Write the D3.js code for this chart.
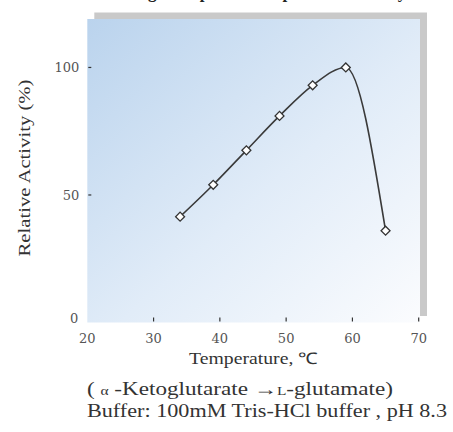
<!DOCTYPE html>
<html>
<head>
<meta charset="utf-8">
<script src="https://cdn.jsdelivr.net/npm/d3@7"></script>
<style>
  body { margin: 0; background: #fff; }
  svg { display: block; }
  .serif { font-family: "Liberation Serif", "Times New Roman", serif; }
  .tick { font-family: "DejaVu Serif", serif; }
</style>
</head>
<body>
<svg id="chart" width="453" height="432"></svg>
<script>
// Data
const temps = [34, 39, 44, 49, 54, 59, 65];
const activity = [41.5, 54, 67.5, 81, 93, 100, 36];
const xTicks = [20, 30, 40, 50, 60, 70];
const yTicks = [0, 50, 100];

const svg = d3.select("#chart");

const x = d3.scaleLinear().domain([20, 70]).range([87.3, 418.7]);
const y = d3.scaleLinear().domain([0, 119]).range([322.5, 19]);

// Gradient for plot background
const defs = svg.append("defs");
const grad = defs.append("linearGradient")
  .attr("id", "bg")
  .attr("x1", 0).attr("y1", 0).attr("x2", 1).attr("y2", 1);
grad.append("stop").attr("offset", "0%").attr("stop-color", "#bad3ed");
grad.append("stop").attr("offset", "55%").attr("stop-color", "#e1ecf8");
grad.append("stop").attr("offset", "100%").attr("stop-color", "#fbfcfe");

// Title (cut off at the top edge, as in the source picture)
svg.append("text")
  .attr("class", "serif")
  .attr("x", 262)
  .attr("y", -2.5)
  .attr("text-anchor", "middle")
  .style("font-weight", "bold")
  .style("font-size", "17px")
  .attr("fill", "#222")
  .text("Range of Optimal Temperature Activity");

// Shadow and plot area
const px0 = x(20), px1 = x(70) + 1.3, py0 = y(119), py1 = y(0);
svg.append("rect")
  .attr("x", px0 + 7).attr("y", py0 - 6.5)
  .attr("width", px1 - px0).attr("height", py1 - py0)
  .attr("fill", "#c9c9c9");
svg.append("rect")
  .attr("x", px0).attr("y", py0)
  .attr("width", px1 - px0).attr("height", py1 - py0)
  .attr("fill", "url(#bg)");

// X axis ticks (drawn inward) and labels
const xAxis = svg.append("g").attr("transform", `translate(0,${py1})`);
xAxis.selectAll("line")
  .data(xTicks.slice(1))
  .join("line")
  .attr("x1", d => x(d)).attr("x2", d => x(d))
  .attr("y1", -5).attr("y2", -1)
  .attr("stroke", "#333").attr("stroke-width", 1.2);
xAxis.selectAll("text")
  .data(xTicks)
  .join("text")
  .attr("class", "tick")
  .attr("x", d => x(d))
  .attr("y", 20)
  .attr("text-anchor", "middle")
  .style("font-size", "13px")
  .attr("fill", "#555")
  .text(d => d);

// Y axis ticks and labels
const yAxis = svg.append("g").attr("transform", `translate(${px0},0)`);
yAxis.selectAll("line")
  .data(yTicks.slice(1))
  .join("line")
  .attr("x1", 1).attr("x2", 4)
  .attr("y1", d => y(d)).attr("y2", d => y(d))
  .attr("stroke", "#333").attr("stroke-width", 1.2);
yAxis.selectAll("text")
  .data(yTicks)
  .join("text")
  .attr("class", "tick")
  .attr("x", d => d === 0 ? -9 : -8)
  .attr("y", d => d === 0 ? y(d) : y(d) + 5)
  .attr("text-anchor", "end")
  .style("font-size", "13px")
  .attr("fill", "#555")
  .text(d => d);

// Axis labels
svg.append("text")
  .attr("class", "serif")
  .attr("transform", "translate(30,168) rotate(-90)")
  .attr("text-anchor", "middle")
  .attr("textLength", 177)
  .attr("lengthAdjust", "spacingAndGlyphs")
  .style("font-size", "17px")
  .attr("fill", "#333")
  .text("Relative Activity (%)");

svg.append("text")
  .attr("class", "serif")
  .attr("x", 189)
  .attr("y", 364)
  .attr("textLength", 129)
  .attr("lengthAdjust", "spacingAndGlyphs")
  .style("font-size", "16px")
  .attr("fill", "#333")
  .text("Temperature, ℃");

// Reaction note, with small alpha and small-cap L
const note = svg.append("text")
  .attr("class", "serif")
  .attr("x", 87)
  .attr("y", 395)
  .attr("textLength", 306)
  .attr("lengthAdjust", "spacingAndGlyphs")
  .style("font-size", "18px")
  .attr("fill", "#333");
note.append("tspan").text("( ");
note.append("tspan").style("font-size", "12px").text("α");
note.append("tspan").text(" -Ketoglutarate →");
note.append("tspan").style("font-size", "12px").text("L");
note.append("tspan").text("-glutamate)");

svg.append("text")
  .attr("class", "serif")
  .attr("x", 87)
  .attr("y", 417)
  .attr("textLength", 360)
  .attr("lengthAdjust", "spacingAndGlyphs")
  .style("font-size", "18px")
  .attr("fill", "#333")
  .text("Buffer: 100mM Tris-HCl buffer , pH 8.3");

// Curve
const pts = temps.map((t, i) => [t, activity[i]]);
const line = d3.line()
  .x(d => x(d[0]))
  .y(d => y(d[1]))
  .curve(d3.curveMonotoneX);

svg.append("path")
  .datum(pts)
  .attr("d", line)
  .attr("fill", "none")
  .attr("stroke", "#3a3a3a")
  .attr("stroke-width", 1.6);

// Diamond markers
const diamond = d3.symbol().type(d3.symbolSquare).size(40);
svg.selectAll("path.marker")
  .data(pts)
  .join("path")
  .attr("class", "marker")
  .attr("transform", d => `translate(${x(d[0])},${y(d[1])}) rotate(45)`)
  .attr("d", diamond)
  .attr("fill", "#fff")
  .attr("stroke", "#333")
  .attr("stroke-width", 1.3);
</script>
</body>
</html>
